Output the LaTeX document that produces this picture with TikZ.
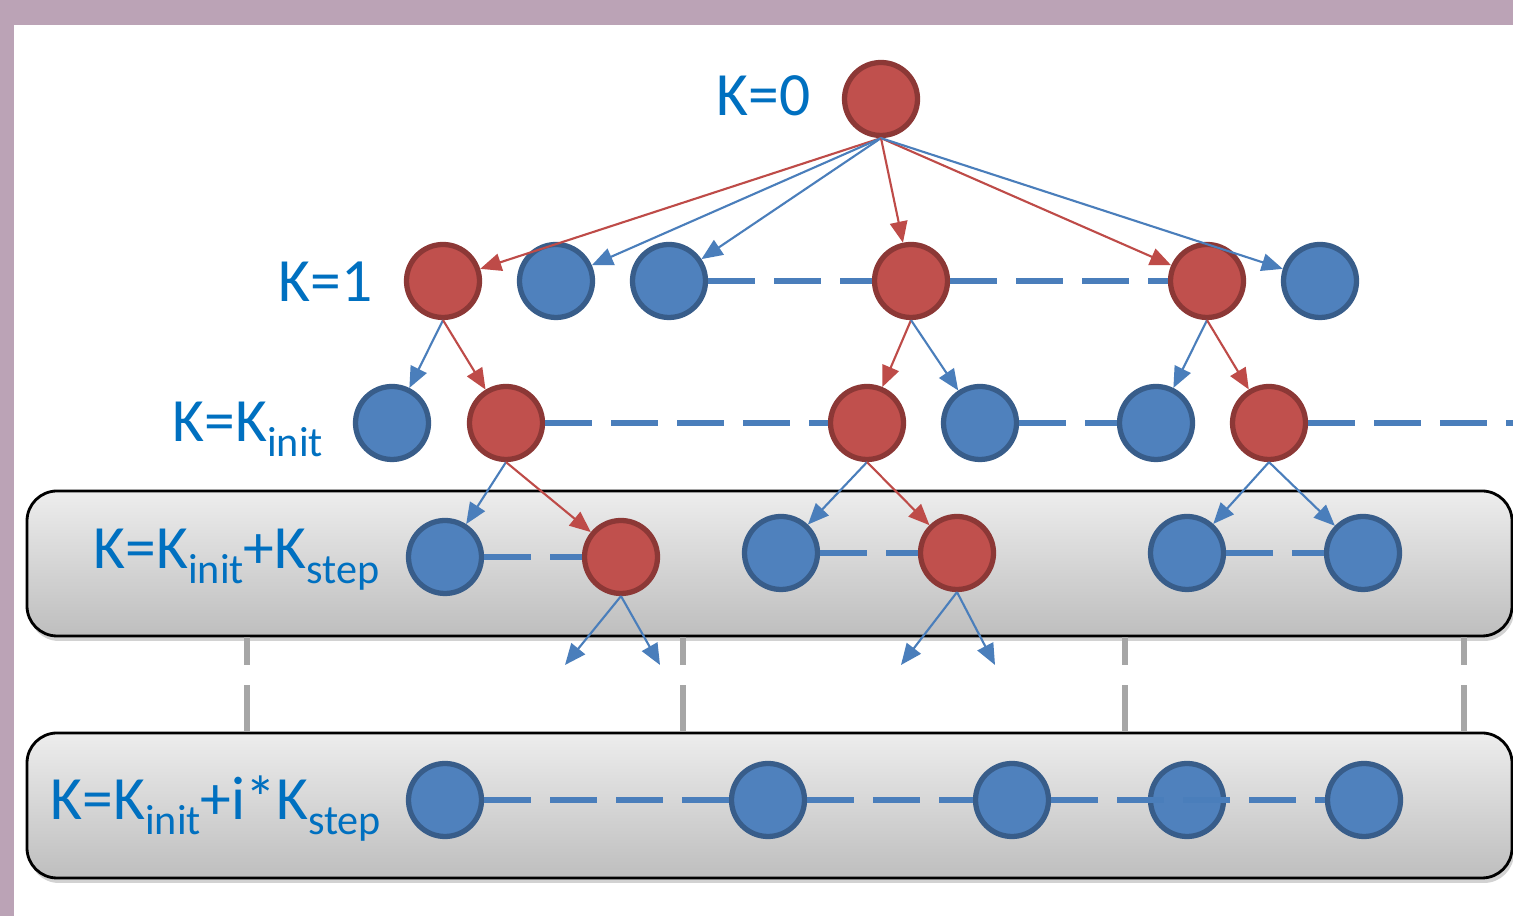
\documentclass[tikz,border=0pt]{standalone}
\usepackage{fontspec}
\setmainfont{Carlito}
\usetikzlibrary{arrows.meta,shadows}

\definecolor{framecol}{HTML}{BBA3B6}
\definecolor{redfill}{HTML}{C0504D}
\definecolor{redline}{HTML}{8C3836}
\definecolor{bluefill}{HTML}{4F81BD}
\definecolor{blueline}{HTML}{385D8A}
\definecolor{labelblue}{HTML}{0070C0}
\definecolor{arrowblue}{HTML}{4A7EBB}
\definecolor{arrowred}{HTML}{BE4B48}
\definecolor{boxtop}{HTML}{EDEDED}
\definecolor{boxbot}{HTML}{BEBEBE}
\definecolor{greyline}{HTML}{A6A6A6}

\newcommand{\ksub}[1]{\raisebox{-0.15cm}{\fontsize{12}{14}\selectfont #1}}

\begin{document}
\begin{tikzpicture}[
    rednode/.style={circle, draw=redline, fill=redfill, line width=1.5pt, minimum size=0.73cm, inner sep=0},
    bluenode/.style={circle, draw=blueline, fill=bluefill, line width=1.5pt, minimum size=0.73cm, inner sep=0},
    level/.style={text=labelblue, font=\fontsize{17.5}{21}\selectfont, anchor=base west, inner sep=0},
    band/.style={draw=black, line width=0.8pt, rounded corners=0.3cm, top color=boxtop, bottom color=boxbot,
                 minimum width=14.85cm, minimum height=1.45cm,
                 drop shadow={opacity=0.35, shadow xshift=0.02cm, shadow yshift=-0.05cm}},
    redarrow/.style={-{Triangle[length=6pt,width=5pt]}, arrowred, line width=0.6pt},
    bluearrow/.style={-{Triangle[length=6pt,width=5pt]}, arrowblue, line width=0.6pt},
    dline/.style={arrowblue, line width=1.7pt, dash pattern=on 0.47cm off 0.19cm},
    gline/.style={greyline, line width=1.6pt, dash pattern=on 0.28cm off 0.2cm on 0.6cm off 0.1cm}
]
\useasboundingbox (0,0) rectangle (15.13,9.16);

% Frame
\fill[framecol] (0,0) rectangle (15.13,9.16);
\fill[white] (0.14,0) rectangle (15.13,8.91);

% Bands
\node[band] (upper) at (7.695,3.525) {};
\node[band] (lower) at (7.695,1.105) {};
\foreach \x in {2.47,6.83,11.25,14.64}
    \draw[gline] (\x,0 |- upper.south) -- (\x,0 |- lower.north);

% Labels
\node[level] (lab0) at (7.16,8.00) {K=0};
\node[level] (lab1) at (2.78,6.14) {K=1};
\node[level] (lab2) at (1.72,4.74) {K=K\ksub{init}};
\node[level] (lab3) at (0.93,3.47) {K=K\ksub{init}+K\ksub{step}};
\node[level] (lab4) at (0.50,0.96) {K=K\ksub{init}+i*K\ksub{step}};

% K=0
\node[rednode] (k0) at (8.81,8.17) {};

% K=1
\node[rednode]  (a1) at (4.43,6.35) {};
\node[bluenode] (a2) at (5.56,6.35) {};
\node[bluenode] (a3) at (6.69,6.35) {};
\node[rednode]  (a4) at (9.11,6.35) {};
\node[rednode]  (a5) at (12.07,6.35) {};
\node[bluenode] (a6) at (13.20,6.35) {};

% K=Kinit
\node[bluenode] (b1) at (3.92,4.93) {};
\node[rednode]  (b2) at (5.06,4.93) {};
\node[rednode]  (b3) at (8.67,4.93) {};
\node[bluenode] (b4) at (9.80,4.93) {};
\node[bluenode] (b5) at (11.56,4.93) {};
\node[rednode]  (b6) at (12.69,4.93) {};
\coordinate (bend) at (15.13,4.93);

% K=Kinit+Kstep
\node[bluenode] (c1) at (4.45,3.59) {};
\node[rednode]  (c2) at (6.21,3.59) {};
\node[bluenode] (c3) at (7.81,3.63) {};
\node[rednode]  (c4) at (9.57,3.63) {};
\node[bluenode] (c5) at (11.87,3.63) {};
\node[bluenode] (c6) at (13.63,3.63) {};
\coordinate (e1) at (5.65,2.51);
\coordinate (e2) at (6.60,2.51);
\coordinate (e3) at (9.01,2.51);
\coordinate (e4) at (9.95,2.51);

% K=Kinit+i*Kstep
\node[bluenode] (d1) at (4.45,1.16) {};
\node[bluenode] (d2) at (7.68,1.16) {};
\node[bluenode] (d3) at (10.12,1.16) {};
\node[bluenode] (d4) at (11.87,1.16) {};
\node[bluenode] (d5) at (13.64,1.16) {};

% Arrows
\draw[redarrow]  (k0.south) -- (a1);
\draw[bluearrow] (k0.south) -- (a2);
\draw[bluearrow] (k0.south) -- (a3);
\draw[redarrow]  (k0.south) -- (a4);
\draw[redarrow]  (k0.south) -- (a5);
\draw[bluearrow] (k0.south) -- (a6);

\draw[bluearrow] (a1.south) -- (b1);
\draw[redarrow]  (a1.south) -- (b2);
\draw[redarrow]  (a4.south) -- (b3);
\draw[bluearrow] (a4.south) -- (b4);
\draw[bluearrow] (a5.south) -- (b5);
\draw[redarrow]  (a5.south) -- (b6);

\draw[bluearrow] (b2.south) -- (c1);
\draw[redarrow]  (b2.south) -- (c2);
\draw[bluearrow] (b3.south) -- (c3);
\draw[redarrow]  (b3.south) -- (c4);
\draw[bluearrow] (b6.south) -- (c5);
\draw[bluearrow] (b6.south) -- (c6);

\draw[bluearrow] (c2.south) -- (e1);
\draw[bluearrow] (c2.south) -- (e2);
\draw[bluearrow] (c4.south) -- (e3);
\draw[bluearrow] (c4.south) -- (e4);

% Dashed links
\draw[dline] (a3) -- (a4);
\draw[dline] (a4) -- (a5);
\draw[dline] (b2) -- (b3);
\draw[dline] (b4) -- (b5);
\draw[dline] (b6) -- (bend);
\draw[dline] (c1) -- (c2);
\draw[dline] (c3) -- (c4);
\draw[dline] (c5) -- (c6);
\draw[dline] (d1) -- (d2);
\draw[dline] (d2) -- (d3);
\draw[dline] (d3) -- (d5);

\end{tikzpicture}
\end{document}
